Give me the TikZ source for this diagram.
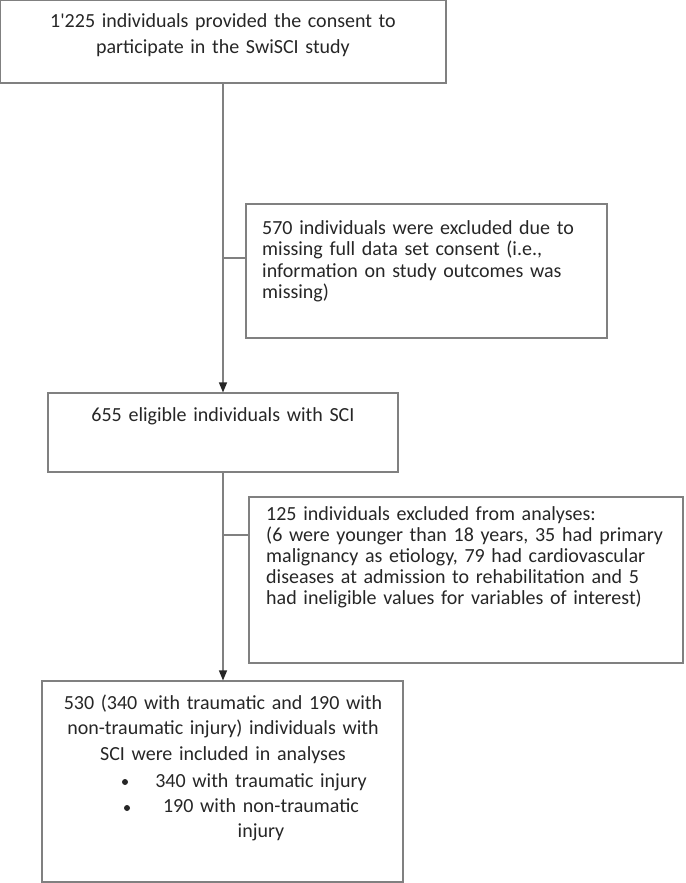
\documentclass[tikz,border=0pt]{standalone}
\usepackage{fontspec}
\setmainfont{Carlito}
\usetikzlibrary{arrows.meta}
\begin{document}
\begin{tikzpicture}[x=1pt,y=-1pt,
  box/.style={draw=black!50, line width=1.1pt},
  txt/.style={anchor=base, inner sep=0pt, text=black!85, font=\fontsize{20}{26}\selectfont},
  link/.style={draw=black!50, line width=1.3pt},
  arrow/.style={link, -{Triangle[length=10pt,width=8pt,color=black!85]}},
  dot/.style={circle, fill=black!85, inner sep=0pt, minimum size=6pt}]
\useasboundingbox (0,0) rectangle (685,883);
\node[box, minimum width=446pt, minimum height=83pt] (consent) at (223,41.5) {};
\node[box, minimum width=361pt, minimum height=134pt] (missing) at (426.5,271) {};
\node[box, minimum width=350pt, minimum height=79pt] (eligible) at (223,432.5) {};
\node[box, minimum width=434pt, minimum height=166pt] (exclusion) at (466,580) {};
\node[box, minimum width=361pt, minimum height=201pt] (included) at (222.5,781.5) {};
\node[txt, text width=440pt, align=center] (consenttext) at (223,28) {1\textquotesingle 225 individuals provided the consent to\\participate in the SwiSCI study};
\node[txt, anchor=base west, text width=340pt, align=left, font=\fontsize{20}{21.5}\selectfont] (missingtext) at (262,234) {570 individuals were excluded due to\\missing full data set consent (i.e.,\\information on study outcomes was\\missing)};
\node[txt, text width=340pt, align=center] (eligibletext) at (223,421.5) {655 eligible individuals with SCI};
\node[txt, anchor=base west, text width=415pt, align=left, font=\fontsize{20}{21}\selectfont] (exclusiontext) at (266,520) {125 individuals excluded from analyses:\\(6 were younger than 18 years, 35 had primary\\malignancy as etiology, 79 had cardiovascular\\diseases at admission to rehabilitation and 5\\had ineligible values for variables of interest)};
\node[txt, text width=355pt, align=center, font=\fontsize{20}{25.5}\selectfont] (includedtext) at (223,709) {530 (340 with traumatic and 190 with\\non-traumatic injury) individuals with\\SCI were included in analyses};
\node[txt, text width=250pt, align=center, font=\fontsize{20}{25}\selectfont] (subgroups) at (261,787) {340 with traumatic injury\\190 with non-traumatic\\injury};
\node[dot] (bullet1) at (125,782) {};
\node[dot] (bullet2) at (127,808) {};
\coordinate (split1) at (223,258);
\coordinate (split2) at (223,535);
\draw[arrow] (consent.south) -- (eligible.north);
\draw[link] (split1) -- (split1 -| missing.west);
\draw[arrow] (eligible.south) -- (eligible.south |- included.north);
\draw[link] (split2) -- (split2 -| exclusion.west);
\end{tikzpicture}
\end{document}
